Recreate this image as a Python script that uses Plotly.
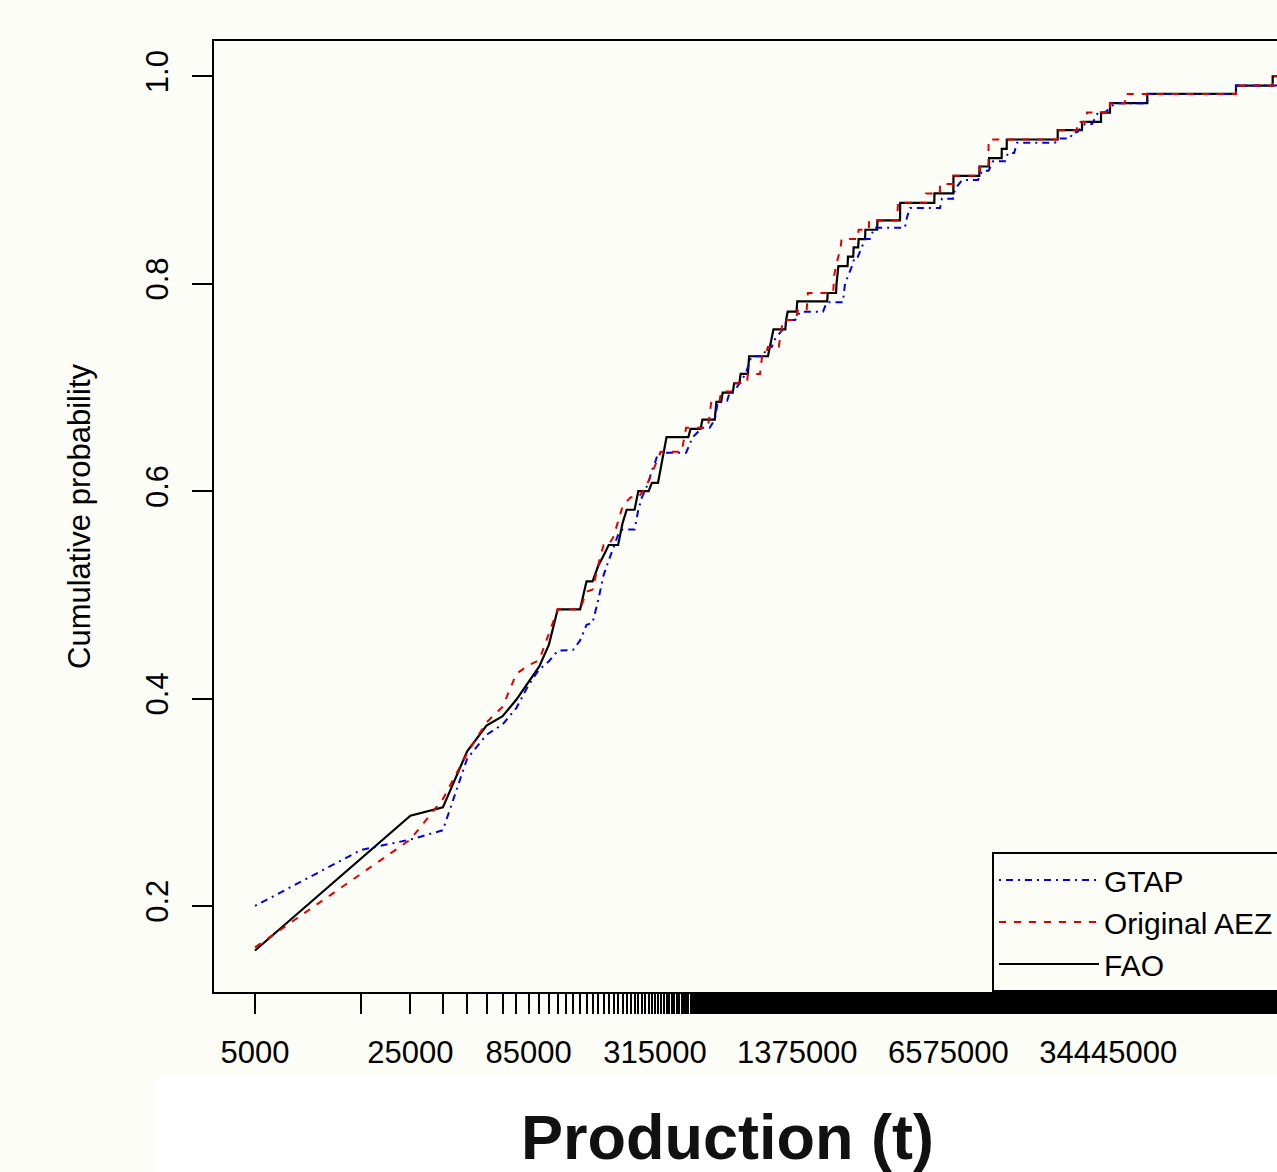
import numpy as np
import plotly.graph_objects as go

# ---------------- data ----------------
fao_x = [5000, 15000, 25000, 35000, 45000, 55000, 65000, 75000, 85000, 95000,
         105000, 115000, 145000, 155000, 165000, 175000, 185000, 195000, 215000, 225000,
         235000, 255000, 265000, 295000, 305000, 325000, 355000, 445000, 455000, 505000,
         515000, 585000, 595000, 625000, 635000, 705000, 715000, 755000, 765000, 825000,
         835000, 1015000, 1035000, 1055000, 1075000, 1215000, 1225000, 1245000, 1365000, 1375000,
         1875000, 1885000, 2055000, 2065000, 2105000, 2315000, 2325000, 2455000, 2465000, 2585000,
         2595000, 2775000, 2785000, 3145000, 3155000, 3985000, 3995000, 5685000, 5695000, 6925000,
         6935000, 9065000, 9075000, 10015000, 10025000, 11425000, 11435000, 12035000, 12045000, 20405000,
         20415000, 26255000, 26265000, 31965000, 31975000, 35085000, 35095000, 51635000, 51645000, 129395000,
         129405000, 189195000, 189205000, 204995000]
fao_y = [0.157, 0.246, 0.287, 0.295, 0.349, 0.374, 0.383, 0.399, 0.416, 0.431,
         0.452, 0.486, 0.486, 0.513, 0.513, 0.528, 0.538, 0.548, 0.548, 0.569,
         0.582, 0.582, 0.600, 0.600, 0.608, 0.608, 0.652, 0.652, 0.660, 0.660,
         0.669, 0.669, 0.686, 0.686, 0.695, 0.695, 0.704, 0.704, 0.713, 0.713,
         0.730, 0.730, 0.739, 0.747, 0.756, 0.756, 0.765, 0.773, 0.773, 0.783,
         0.783, 0.791, 0.791, 0.800, 0.817, 0.817, 0.826, 0.826, 0.835, 0.835,
         0.843, 0.843, 0.852, 0.852, 0.861, 0.861, 0.878, 0.878, 0.887, 0.887,
         0.904, 0.904, 0.913, 0.913, 0.921, 0.921, 0.930, 0.930, 0.939, 0.939,
         0.948, 0.948, 0.956, 0.956, 0.965, 0.965, 0.974, 0.974, 0.983, 0.983,
         0.991, 0.991, 1.000, 1.000]

aez_x = [5000, 15000, 25000, 35000, 45000, 55000, 65000, 75000, 85000, 95000,
         105000, 115000, 145000, 155000, 165000, 175000, 185000, 195000, 205000, 215000,
         225000, 235000, 245000, 265000, 285000, 295000, 325000, 335000, 415000, 435000,
         545000, 565000, 615000, 625000, 695000, 715000, 815000, 825000, 935000, 955000,
         985000, 1015000, 1135000, 1185000, 1365000, 1375000, 1515000, 1535000, 1995000, 2015000,
         2055000, 2155000, 2175000, 2575000, 2595000, 2885000, 2895000, 3865000, 3905000, 5215000,
         5225000, 6025000, 6035000, 6925000, 6935000, 9125000, 9135000, 9965000, 9975000, 20405000,
         20415000, 24915000, 24925000, 27645000, 27655000, 35085000, 35095000, 40985000, 40995000, 129395000,
         129405000, 189195000, 189205000, 204995000]
aez_y = [0.160, 0.231, 0.264, 0.303, 0.347, 0.377, 0.392, 0.424, 0.432, 0.437,
         0.462, 0.486, 0.486, 0.503, 0.505, 0.529, 0.548, 0.548, 0.556, 0.572,
         0.585, 0.590, 0.594, 0.594, 0.603, 0.610, 0.630, 0.638, 0.638, 0.661,
         0.661, 0.687, 0.687, 0.696, 0.696, 0.704, 0.704, 0.713, 0.713, 0.730,
         0.730, 0.739, 0.739, 0.765, 0.765, 0.774, 0.774, 0.791, 0.791, 0.808,
         0.817, 0.835, 0.843, 0.843, 0.852, 0.852, 0.861, 0.861, 0.878, 0.878,
         0.887, 0.887, 0.896, 0.896, 0.904, 0.904, 0.913, 0.913, 0.939, 0.939,
         0.948, 0.948, 0.956, 0.956, 0.965, 0.965, 0.974, 0.974, 0.983, 0.983,
         0.991, 0.991, 1.000, 1.000]

gtap_x = [5000, 15000, 25000, 35000, 45000, 55000, 65000, 75000, 85000, 95000,
          105000, 115000, 135000, 145000, 155000, 165000, 175000, 185000, 195000, 205000,
          215000, 225000, 255000, 265000, 275000, 285000, 295000, 305000, 315000, 325000,
          435000, 465000, 515000, 555000, 585000, 605000, 665000, 685000, 715000, 755000,
          805000, 855000, 965000, 1005000, 1055000, 1095000, 1185000, 1245000, 1345000, 1415000,
          1795000, 1865000, 2205000, 2255000, 2425000, 2495000, 2575000, 2685000, 2765000, 2915000,
          3055000, 4195000, 4285000, 4425000, 6035000, 6155000, 6905000, 7045000, 7575000, 8945000,
          9325000, 9975000, 10445000, 11825000, 12195000, 12995000, 13395000, 19845000, 20895000, 23175000,
          23915000, 24915000, 27085000, 29125000, 30995000, 33325000, 36955000, 51635000, 51645000, 129395000,
          129405000, 204995000]
gtap_y = [0.200, 0.254, 0.264, 0.273, 0.342, 0.365, 0.375, 0.391, 0.413, 0.428,
          0.436, 0.446, 0.447, 0.456, 0.471, 0.473, 0.495, 0.519, 0.533, 0.545,
          0.558, 0.563, 0.563, 0.582, 0.594, 0.601, 0.609, 0.620, 0.627, 0.637,
          0.637, 0.652, 0.661, 0.661, 0.669, 0.687, 0.687, 0.696, 0.696, 0.704,
          0.713, 0.730, 0.730, 0.739, 0.739, 0.747, 0.756, 0.765, 0.765, 0.773,
          0.773, 0.782, 0.782, 0.800, 0.817, 0.826, 0.826, 0.835, 0.843, 0.843,
          0.854, 0.854, 0.864, 0.873, 0.873, 0.882, 0.882, 0.891, 0.900, 0.900,
          0.909, 0.909, 0.918, 0.918, 0.926, 0.926, 0.936, 0.936, 0.940, 0.940,
          0.946, 0.946, 0.954, 0.954, 0.965, 0.965, 0.974, 0.974, 0.983, 0.983,
          0.991, 0.991]

series_names = ["GTAP", "Original AEZ", "FAO"]

x_label_values = [5000, 25000, 85000, 315000, 1375000, 6575000, 34445000]
x_label_text = ["5000", "25000", "85000", "315000", "1375000", "6575000", "34445000"]
x_tick_start, x_tick_step, x_tick_stop = 5000, 10000, 205000000
y_tick_values = [0.2, 0.4, 0.6, 0.8, 1.0]
y_tick_text = ["0.2", "0.4", "0.6", "0.8", "1.0"]

# ---------------- figure ----------------
BG = "#fdfdf7"
FONT = "Liberation Sans, Arial, Helvetica, sans-serif"
W, H = 1277, 1172
ML, MT, MB = 214, 41, 180
PW, PH = W - ML, H - MT - MB

def px_to_paper_x(px):
    return (px - ML) / PW

def px_to_paper_y(py):
    return (H - MB - py) / PH

fig = go.Figure()
fig.add_trace(go.Scatter(x=fao_x, y=fao_y, mode="lines", name=series_names[2], legendrank=3,
                         line=dict(color="black", width=2.2)))
fig.add_trace(go.Scatter(x=gtap_x, y=gtap_y, mode="lines", name=series_names[0], legendrank=1,
                         line=dict(color="#0000e6", width=2, dash="2px,5px,7px,5px")))
fig.add_trace(go.Scatter(x=aez_x, y=aez_y, mode="lines", name=series_names[1], legendrank=2,
                         line=dict(color="#e00000", width=2, dash="7px,8px")))

minor_vals = np.arange(x_tick_start, x_tick_stop, x_tick_step)

fig.update_xaxes(
    type="log",
    range=[3.5145, 8.2964],
    showline=True, linecolor="black", linewidth=2, mirror=True,
    showgrid=False, zeroline=False,
    tickmode="array", tickvals=x_label_values, ticktext=x_label_text,
    ticks="outside", ticklen=20, tickwidth=1.5, tickcolor="black",
    tickfont=dict(size=31, color="black", family=FONT),
    ticklabelstandoff=12,
    minor=dict(tickmode="array", tickvals=minor_vals, ticks="outside",
               ticklen=20, tickwidth=1.5, tickcolor="black", showgrid=False),
)
fig.update_yaxes(
    range=[0.117, 1.034],
    showline=True, linecolor="black", linewidth=2, mirror=False,
    showgrid=False, zeroline=False,
    tickmode="array", tickvals=y_tick_values, ticktext=y_tick_text,
    ticks="outside", ticklen=20, tickwidth=1.5, tickcolor="black",
    tickangle=-90,
    tickfont=dict(size=31, color="black", family=FONT),
    ticklabelstandoff=12,
    title=dict(text="Cumulative probability", font=dict(size=31, color="black", family=FONT),
               standoff=40),
)

fig.add_shape(type="rect", xref="paper", yref="paper", layer="below",
              x0=px_to_paper_x(155), x1=px_to_paper_x(W + 5),
              y0=px_to_paper_y(H + 5), y1=px_to_paper_y(1077),
              fillcolor="white", line=dict(width=0))

fig.add_annotation(text="<b>Production (t)</b>", xref="paper", yref="paper",
                   x=px_to_paper_x(727), y=px_to_paper_y(1137),
                   xanchor="center", yanchor="middle", showarrow=False,
                   font=dict(size=63, color="#111111", family=FONT))

fig.update_layout(
    width=W, height=H,
    margin=dict(l=ML, r=0, t=MT, b=MB, pad=0, autoexpand=False),
    paper_bgcolor=BG, plot_bgcolor=BG,
    font=dict(family=FONT, size=31, color="black"),
    showlegend=True,
    legend=dict(x=px_to_paper_x(992), xanchor="left", y=0, yanchor="bottom",
                bordercolor="black", borderwidth=2, bgcolor=BG,
                font=dict(size=30, color="black", family=FONT),
                itemwidth=100, tracegroupgap=0),
)

page_style = ("document.body.style.margin='0';"
              "document.body.style.padding='0';"
              "document.body.style.overflow='hidden';"
              "document.body.style.background='%s';" % BG)
fig.write_html("out.html", post_script=page_style,
               config={"displayModeBar": False, "staticPlot": False})
